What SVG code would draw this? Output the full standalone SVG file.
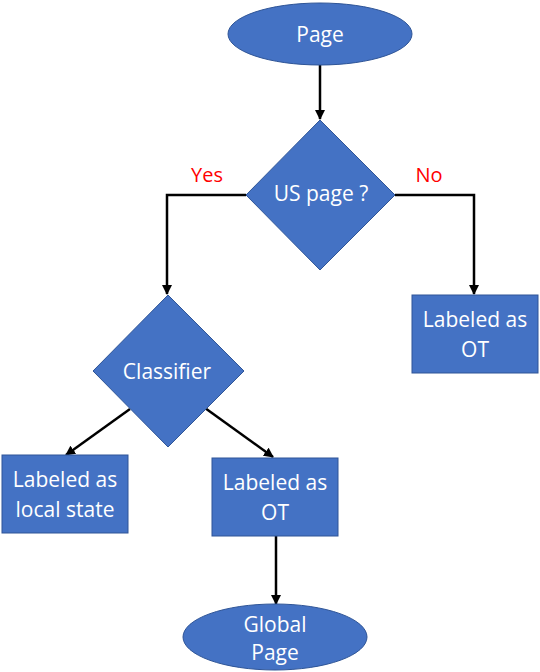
<svg xmlns="http://www.w3.org/2000/svg" width="540" height="672" viewBox="0 0 540 672">
<style>
.shape{fill:#4472C4;stroke:#2F5597;stroke-width:1}
.t{font-family:"Open Sans","Liberation Sans",sans-serif;font-size:21px;fill:#FFFFFF;text-anchor:middle}
.lbl{font-family:"Open Sans","Liberation Sans",sans-serif;font-size:20px;fill:#FF0000;text-anchor:middle}
.c{fill:none;stroke:#000000;stroke-width:2.5}
</style>
<defs>
<marker id="arr" viewBox="0 0 10 10" refX="9" refY="5" markerWidth="4" markerHeight="4" orient="auto" markerUnits="strokeWidth">
<path d="M0,0 L10,5 L0,10 z" fill="#000000"/>
</marker>
</defs>
<rect width="540" height="672" fill="#FFFFFF"/>
<g id="connectors">
<line class="c" x1="320" y1="65" x2="320" y2="119" marker-end="url(#arr)"/>
<polyline class="c" points="246,195 167,195 167,294" marker-end="url(#arr)"/>
<polyline class="c" points="395,195 474,195 474,294" marker-end="url(#arr)"/>
<line class="c" x1="130" y1="409" x2="66" y2="455" marker-end="url(#arr)"/>
<line class="c" x1="205" y1="408" x2="273" y2="457" marker-end="url(#arr)"/>
<line class="c" x1="276" y1="536" x2="276" y2="604" marker-end="url(#arr)"/>
<text class="lbl" x="207" y="182">Yes</text>
<text class="lbl" x="429" y="182">No</text>
</g>
<g id="page">
<ellipse class="shape" cx="320" cy="34" rx="92" ry="31"/>
<text class="t" x="320" y="42">Page</text>
</g>
<g id="us-page">
<polygon class="shape" points="320,120 395,195 320,270 246,195"/>
<text class="t" x="321" y="201">US page ?</text>
</g>
<g id="classifier">
<polygon class="shape" points="168,295 244,371 168,447 93,371"/>
<text class="t" x="167" y="379">Classifier</text>
</g>
<g id="ot-right">
<rect class="shape" x="412" y="295" width="126" height="78"/>
<text class="t" x="475" y="327">Labeled as</text>
<text class="t" x="475" y="357">OT</text>
</g>
<g id="local-state">
<rect class="shape" x="2" y="455" width="126" height="78"/>
<text class="t" x="65" y="487">Labeled as</text>
<text class="t" x="65" y="517">local state</text>
</g>
<g id="ot-middle">
<rect class="shape" x="212" y="458" width="126" height="78"/>
<text class="t" x="275" y="490">Labeled as</text>
<text class="t" x="275" y="520">OT</text>
</g>
<g id="global-page">
<ellipse class="shape" cx="275" cy="637" rx="92" ry="33"/>
<text class="t" x="275" y="632">Global</text>
<text class="t" x="275" y="660">Page</text>
</g>
</svg>
